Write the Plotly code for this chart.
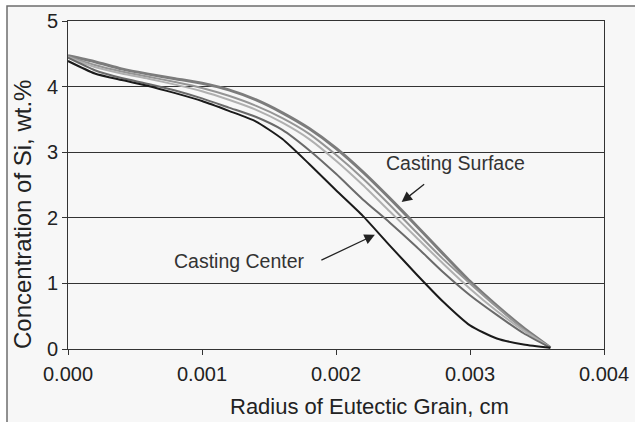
import plotly.graph_objects as go

# Radial positions within the eutectic grain (cm)
radius_cm = [0.0, 0.0002, 0.0004, 0.0006, 0.0008, 0.0010, 0.0012, 0.0014, 0.0016,
             0.0018, 0.0020, 0.0022, 0.0024, 0.0026, 0.0028, 0.0030, 0.0032,
             0.0034, 0.0036]

# Si concentration profiles (wt.%) from casting center to casting surface
si_center = [4.39, 4.20, 4.10, 4.01, 3.90, 3.78, 3.63, 3.47, 3.20, 2.82, 2.42,
             2.03, 1.58, 1.14, 0.72, 0.36, 0.16, 0.07, 0.02]
si_pos2 = [4.44, 4.25, 4.13, 4.04, 3.94, 3.82, 3.68, 3.54, 3.34, 3.03, 2.67,
           2.28, 1.93, 1.56, 1.17, 0.82, 0.52, 0.24, 0.02]
si_pos3 = [4.45, 4.30, 4.20, 4.12, 4.03, 3.93, 3.80, 3.65, 3.45, 3.20, 2.87,
           2.50, 2.10, 1.70, 1.30, 0.92, 0.58, 0.28, 0.02]
si_pos4 = [4.46, 4.33, 4.23, 4.15, 4.07, 3.98, 3.86, 3.71, 3.52, 3.28, 2.96,
           2.60, 2.20, 1.78, 1.37, 1.00, 0.64, 0.30, 0.02]
si_surface = [4.47, 4.38, 4.27, 4.19, 4.12, 4.05, 3.95, 3.80, 3.60, 3.36, 3.06,
              2.70, 2.30, 1.88, 1.45, 1.03, 0.66, 0.32, 0.02]

x_ticks = [0.0, 0.001, 0.002, 0.003, 0.004]
x_tick_text = ["0.000", "0.001", "0.002", "0.003", "0.004"]
y_ticks = [0, 1, 2, 3, 4, 5]

profiles = [
    (si_center, "#1a1a1a", 2.0),
    (si_pos2, "#6a6a6a", 2.0),
    (si_pos3, "#b0b0b0", 2.0),
    (si_pos4, "#959595", 2.0),
    (si_surface, "#7c7c7c", 3.0),
]

fig = go.Figure()
for values, color, width in reversed(profiles):
    fig.add_trace(go.Scatter(
        x=radius_cm, y=values, mode="lines",
        line=dict(color=color, width=width, shape="spline", smoothing=0.6),
        showlegend=False, hoverinfo="skip",
    ))

font_family = "Liberation Sans, Arial, sans-serif"
text_color = "#222222"

fig.update_layout(
    width=635, height=422,
    margin=dict(l=68, r=31, t=21, b=73, autoexpand=False),
    paper_bgcolor="white",
    plot_bgcolor="rgba(0,0,0,0)",
    font=dict(family=font_family, color=text_color),
    xaxis=dict(
        range=[0, 0.004], tickvals=x_ticks, ticktext=x_tick_text,
        showgrid=False, zeroline=False, automargin=False,
        showline=True, linecolor="#333333", linewidth=1, mirror=True,
        ticks="outside", ticklen=5, tickcolor="#333333",
        tickfont=dict(size=20, color=text_color),
        ticklabelstandoff=2,
    ),
    yaxis=dict(
        range=[0, 5], tickvals=y_ticks,
        showgrid=True, gridcolor="#333333", gridwidth=1, zeroline=False,
        automargin=False,
        showline=True, linecolor="#333333", linewidth=1, mirror=True,
        ticks="outside", ticklen=5, tickcolor="#333333",
        tickfont=dict(size=20, color=text_color),
        ticklabelstandoff=0,
    ),
    shapes=[
        dict(type="rect", xref="paper", yref="paper",
             x0=-0.1138, x1=1.06, y0=-0.225, y1=1.0457,
             line=dict(color="#6e6e6e", width=1.5),
             fillcolor="#f7f7f7", layer="below"),
    ],
    annotations=[
        # axis titles
        dict(x=0.5634, y=-0.174, xref="paper", yref="paper",
             text="Radius of Eutectic Grain, cm", showarrow=False,
             xanchor="center", yanchor="middle",
             font=dict(size=22, color=text_color)),
        dict(x=-0.0858, y=0.4085, xref="paper", yref="paper",
             text="Concentration of Si, wt.%", showarrow=False, textangle=-90,
             xanchor="center", yanchor="middle",
             font=dict(size=24, color=text_color)),
        # curve labels with pointer arrows
        dict(x=0.00249, y=2.24, xref="x", yref="y", text="",
             showarrow=True, arrowhead=2, arrowsize=1.6, arrowwidth=1.3,
             arrowcolor="#222222", ax=24, ay=-19),
        dict(x=0.00289, y=2.83, xref="x", yref="y", text="Casting Surface",
             showarrow=False, font=dict(size=19.5, color="#333333")),
        dict(x=0.00229, y=1.74, xref="x", yref="y", text="",
             showarrow=True, arrowhead=2, arrowsize=1.6, arrowwidth=1.3,
             arrowcolor="#222222", ax=-55, ay=26),
        dict(x=0.00128, y=1.34, xref="x", yref="y", text="Casting Center",
             showarrow=False, font=dict(size=19.5, color="#333333")),
    ],
)

fig.write_html("out.html")
